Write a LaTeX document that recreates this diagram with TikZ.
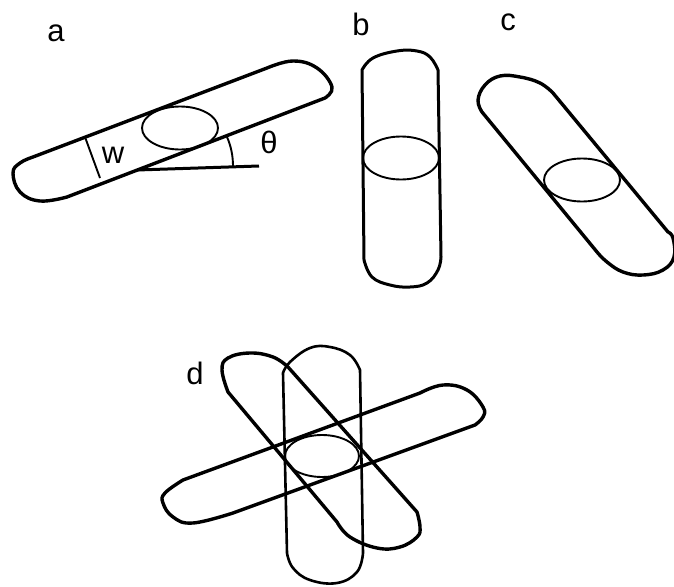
\documentclass[tikz,border=0pt]{standalone}
\usepackage{fontspec}
\setmainfont{Liberation Sans}
\usetikzlibrary{shapes.geometric}
\tikzset{
  capsule/.style={draw=black,line width=3.4pt,line join=round,line cap=round},
  midcapsule/.style={capsule,line width=3pt},
  thincapsule/.style={capsule,line width=2.6pt},
  disc/.style={draw=black,ellipse,line width=1.9pt,inner sep=0pt,minimum width=76pt,minimum height=43pt},
  tick/.style={draw=black,line width=1.9pt},
  lab/.style={font=\fontsize{31}{31}\selectfont,text=black,inner sep=0pt}
}
\begin{document}
\begin{tikzpicture}[x=1pt,y=-1pt]
\useasboundingbox (0,0) rectangle (674,586);
% a
\draw[capsule] plot[smooth,tension=.7] coordinates {(267,68)(293,61)(317,68)(332,87)(325,98)}
  -- plot[smooth,tension=.7] coordinates {(67,197)(40,201)(20,192)(13,173)(20,163)(33,157)} -- cycle;
\node[disc] (ea) at (180,128) {};
\coordinate (wa) at (85,137); \coordinate (wb) at (100,178);
\draw[tick] (wa) -- (wb);
\coordinate (va) at (137,170); \coordinate (vb) at (259,166);
\draw[midcapsule,line cap=butt] (va) -- (vb);
\coordinate (ra) at (227,137); \coordinate (rb) at (233,166);
\draw[tick] (ra) .. controls (231,146) and (233,156) .. (rb);
\node[lab] (la) at (56,33) {a};
\node[lab] (lw) at (113,155) {w};
\node[lab] (lt) at (269,142) {θ};
% b
\draw[midcapsule] plot[smooth,tension=.7] coordinates {(362,70)(373,58)(397,51)(417,51)(430,57)(438,70)}
  -- plot[smooth,tension=.7] coordinates {(441,257)(438,270)(427,283)(410,287)(390,285)(372,277)(364,260)} -- cycle;
\node[disc] (eb) at (401,158) {};
\node[lab] (lb) at (361,24) {b};
% c
\draw[capsule] plot[smooth,tension=.7] coordinates {(553,93)(540,83)(520,77)(500,76)(485,85)(478,100)(482,112)}
  -- plot[smooth,tension=.7] coordinates {(597,252)(607,262)(623,272)(643,275)(663,270)(674,257)(673,238)(668,232)} -- cycle;
\node[disc] (ec) at (582,180) {};
\node[lab] (lc) at (508,22) {c};
% d
\draw[capsule] plot[smooth,tension=.7] coordinates {(420,393)(443,385)(467,390)(483,407)(483,417)(475,425)}
  -- plot[smooth,tension=.7] coordinates {(233,513)(193,523)(173,517)(163,503)(165,493)(183,480)} -- cycle;
\draw[thincapsule] plot[smooth,tension=.7] coordinates {(283,373)(290,362)(310,348)(330,347)(350,355)(360,370)}
  -- plot[smooth,tension=.7] coordinates {(363,553)(357,572)(337,583)(310,580)(293,568)(287,553)} -- cycle;
\draw[capsule] plot[smooth,tension=.7] coordinates {(288,367)(273,357)(250,353)(228,358)(222,370)(228,392)}
  -- plot[smooth,tension=.7] coordinates {(337,522)(350,537)(377,548)(400,547)(417,537)(420,527)(417,512)} -- cycle;
\node[disc,minimum width=74pt,minimum height=42pt] (ed) at (322,456) {};
\node[lab] (ld) at (195,373) {d};
\end{tikzpicture}
\end{document}
